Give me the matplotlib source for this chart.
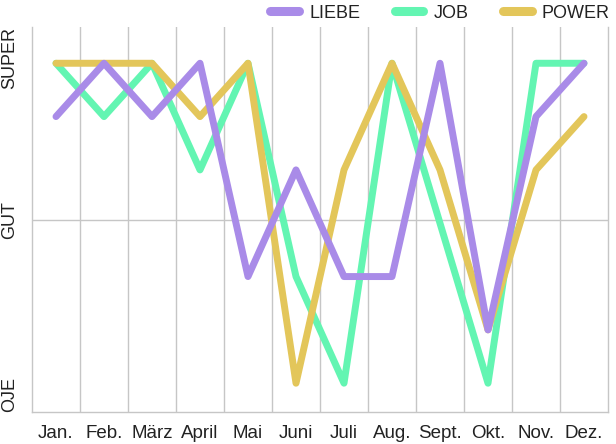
import matplotlib
matplotlib.use("Agg")
import matplotlib.pyplot as plt
from matplotlib.ticker import FixedLocator

plt.rcParams['font.family'] = ['Liberation Sans Narrow', 'Liberation Sans', 'DejaVu Sans']

months = ['Jan.', 'Feb.', 'März', 'April', 'Mai', 'Juni', 'Juli',
          'Aug.', 'Sept.', 'Okt.', 'Nov.', 'Dez.']

# 0 = OJE ... 6 = SUPER
liebe = [5, 6, 5, 6, 2, 4, 2, 2, 6, 1, 5, 6]
job = [6, 5, 6, 4, 6, 2, 0, 6, 3, 0, 6, 6]
power = [6, 6, 6, 5, 6, 0, 4, 6, 4, 1, 4, 5]

level_labels = ['OJE', 'GUT', 'SUPER']
gut_level = 3.06

c_liebe = '#a98be8'
c_job = '#63f5b2'
c_power = '#e3c65a'
grid_c = '#c6c6c6'

fig = plt.figure(figsize=(6.16, 4.44), dpi=100)
ax = fig.add_axes([32/616, 1-412/444, 576/616, 385/444])

x = list(range(len(months)))
ax.plot(x, job, color=c_job, lw=5, label='JOB', zorder=3, solid_capstyle='round')
ax.plot(x, power, color=c_power, lw=5, label='POWER', zorder=4, solid_capstyle='round')
ax.plot(x, liebe, color=c_liebe, lw=5, label='LIEBE', zorder=5, solid_capstyle='round')

ymin, ymax = -0.54, 6.68
ax.set_xlim(-0.5, len(months) - 0.5)
ax.set_ylim(ymin, ymax)

# vertical grid between months
ax.xaxis.set_minor_locator(FixedLocator([k + 0.5 for k in range(len(months) - 1)]))
ax.grid(which='minor', axis='x', color=grid_c, lw=1)
ax.axhline(gut_level, color=grid_c, lw=1, zorder=1)
ax.set_axisbelow(True)

ax.set_xticks(x)
ax.set_xticklabels(months, fontsize=13.5, color='#222222')
ax.tick_params(axis='x', which='both', length=0, pad=9)

ax.set_yticks([ymin, gut_level, ymax])
ax.set_yticklabels(level_labels, fontsize=13, color='#222222', rotation=90)
ax.tick_params(axis='y', length=0, pad=10)
for lab, va in zip(ax.get_yticklabels(), ['bottom', 'center', 'top']):
    lab.set_va(va)

for s in ['left', 'right', 'bottom']:
    ax.spines[s].set_color(grid_c)
    ax.spines[s].set_linewidth(1)
ax.spines['top'].set_visible(False)

handles, labels = ax.get_legend_handles_labels()
order = [2, 0, 1]
leg = ax.legend([handles[i] for i in order], [labels[i] for i in order],
                loc='lower right', bbox_to_anchor=(1.012, 1.0), ncol=3, frameon=False,
                fontsize=13, handlelength=1.6, handletextpad=0.55, columnspacing=1.9,
                borderaxespad=0.0, borderpad=0.3)
for line in leg.get_lines():
    line.set_linewidth(6.5)
    line.set_solid_capstyle('round')
for t in leg.get_texts():
    t.set_color('#222222')

fig.savefig('out.png', dpi=100)
